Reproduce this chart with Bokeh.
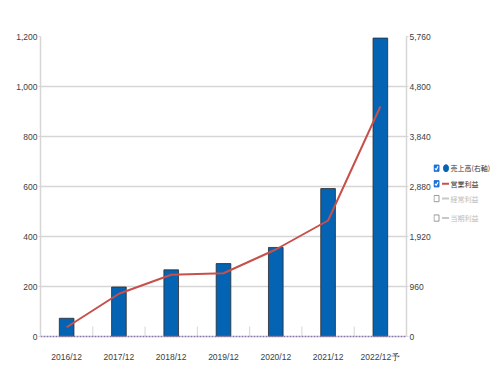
from bokeh.plotting import figure
from bokeh.layouts import row
from bokeh.models import Range1d, FactorRange, LinearAxis, FixedTicker, NumeralTickFormatter, ColumnDataSource
from bokeh.embed import file_html
from bokeh.resources import INLINE
from bokeh.core.properties import value

# ---- data ----
periods = ["2016/12", "2017/12", "2018/12", "2019/12", "2020/12", "2021/12", "2022/12予"]
sales = [350, 950, 1280, 1400, 1710, 2840, 5730]          # 売上高 (右軸)
operating_profit = [37, 171, 247, 253, 348, 464, 920]      # 営業利益 (左軸)
left_ticks = [0, 200, 400, 600, 800, 1000, 1200]
right_ticks = [0, 960, 1920, 2880, 3840, 4800, 5760]
legend_labels = ["売上高(右軸)", "営業利益", "経常利益", "当期利益"]
legend_active = [True, True, False, False]

# ---- styles ----
BAR = "#0563b4"
LINE = "#c8504a"
GRID = "#d6d6d6"
TXT = "#404040"
NUM_FONT = "Liberation Sans"

p = figure(width=433, height=385,
           x_range=FactorRange(factors=periods),
           y_range=Range1d(left_ticks[0], left_ticks[-1]),
           output_backend="svg", toolbar_location=None,
           min_border_left=40, min_border_right=25, min_border_top=36, min_border_bottom=49)
p.extra_y_ranges = {"right": Range1d(right_ticks[0], right_ticks[-1])}
p.outline_line_color = None
p.background_fill_color = "white"

# grid
p.xgrid.visible = False
p.ygrid.ticker = FixedTicker(ticks=left_ticks[1:])
p.ygrid.grid_line_color = GRID
p.ygrid.grid_line_width = 1.5

# left axis
ya = p.yaxis[0]
ya.ticker = FixedTicker(ticks=left_ticks)
ya.formatter = NumeralTickFormatter(format="0,0")

ra = LinearAxis(y_range_name="right", ticker=FixedTicker(ticks=right_ticks),
                formatter=NumeralTickFormatter(format="0,0"))
p.add_layout(ra, "right")

for ax in (ya, ra):
    ax.axis_line_color = GRID
    ax.axis_line_width = 1.5
    ax.major_tick_line_color = GRID
    ax.major_tick_out = 2
    ax.major_tick_in = 0
    ax.minor_tick_line_color = None
    ax.major_label_text_font = NUM_FONT
    ax.major_label_text_font_size = "8.5px"
    ax.major_label_text_color = TXT
    ax.major_label_standoff = 1

xa = p.xaxis[0]
xa.axis_line_color = "#8476a6"
xa.axis_line_dash = "2 1"
xa.axis_line_width = 1.5
xa.major_tick_line_color = None
xa.minor_tick_line_color = None
xa.major_label_text_font = NUM_FONT
xa.major_label_text_font_size = "8.5px"
xa.major_label_text_color = TXT
xa.major_label_standoff = 9

# category separators (short inward ticks)
seps = list(range(1, len(periods)))
p.segment(x0=seps, y0=[0] * len(seps), x1=seps, y1=[40] * len(seps), line_color=GRID, line_width=1)

src = ColumnDataSource(dict(period=periods, sales=sales, op=operating_profit))
p.vbar(x="period", top="sales", width=0.28, source=src, y_range_name="right",
       fill_color=BAR, line_color="#2a2a2a", line_width=0.8)
p.line(x="period", y="op", source=src, line_color=LINE, line_width=2)

# ---- legend panel ----
lg = figure(width=57, height=385, x_range=Range1d(0, 57), y_range=Range1d(385, 0),
            output_backend="svg", toolbar_location=None,
            x_axis_location=None, y_axis_location=None, min_border=0)
lg.grid.visible = False
lg.outline_line_color = None

ys = [169, 189, 208, 233]
on_y = [y for y, a in zip(ys, legend_active) if a]
off_y = [y for y, a in zip(ys, legend_active) if not a]

lg.rect(x=[3] * len(on_y), y=on_y, width=5, height=8, fill_color="#1f72d8", line_color="#1f72d8")
lg.multi_line(xs=[[1.5, 2.7, 4.5]] * len(on_y), ys=[[y + 0.2, y + 2.2, y - 2.4] for y in on_y],
              line_color="white", line_width=1.2)
lg.rect(x=[3] * len(off_y), y=off_y, width=5, height=8, fill_color="white", line_color="#9a9a9a")

lg.ellipse(x=[12.5], y=[ys[0]], width=5, height=9, fill_color=BAR, line_color=BAR)
lg.segment(x0=[8.5], y0=[ys[1]], x1=[15.5], y1=[ys[1]], line_color=LINE, line_width=2)
lg.segment(x0=[8.5] * len(off_y), y0=off_y, x1=[15.5] * len(off_y), y1=off_y, line_color="#c8c8c8", line_width=2)

lsrc = ColumnDataSource(dict(x=[17] * len(ys), y=ys, t=legend_labels,
                             c=["#333333" if a else "#bdbdbd" for a in legend_active]))
lg.text(x="x", y="y", text="t", text_color="c", source=lsrc, text_baseline="middle",
        text_font=value("Noto Sans CJK JP"), text_font_size="7px")

layout = row(p, lg)
open("out.html", "w").write(file_html(layout, INLINE))
